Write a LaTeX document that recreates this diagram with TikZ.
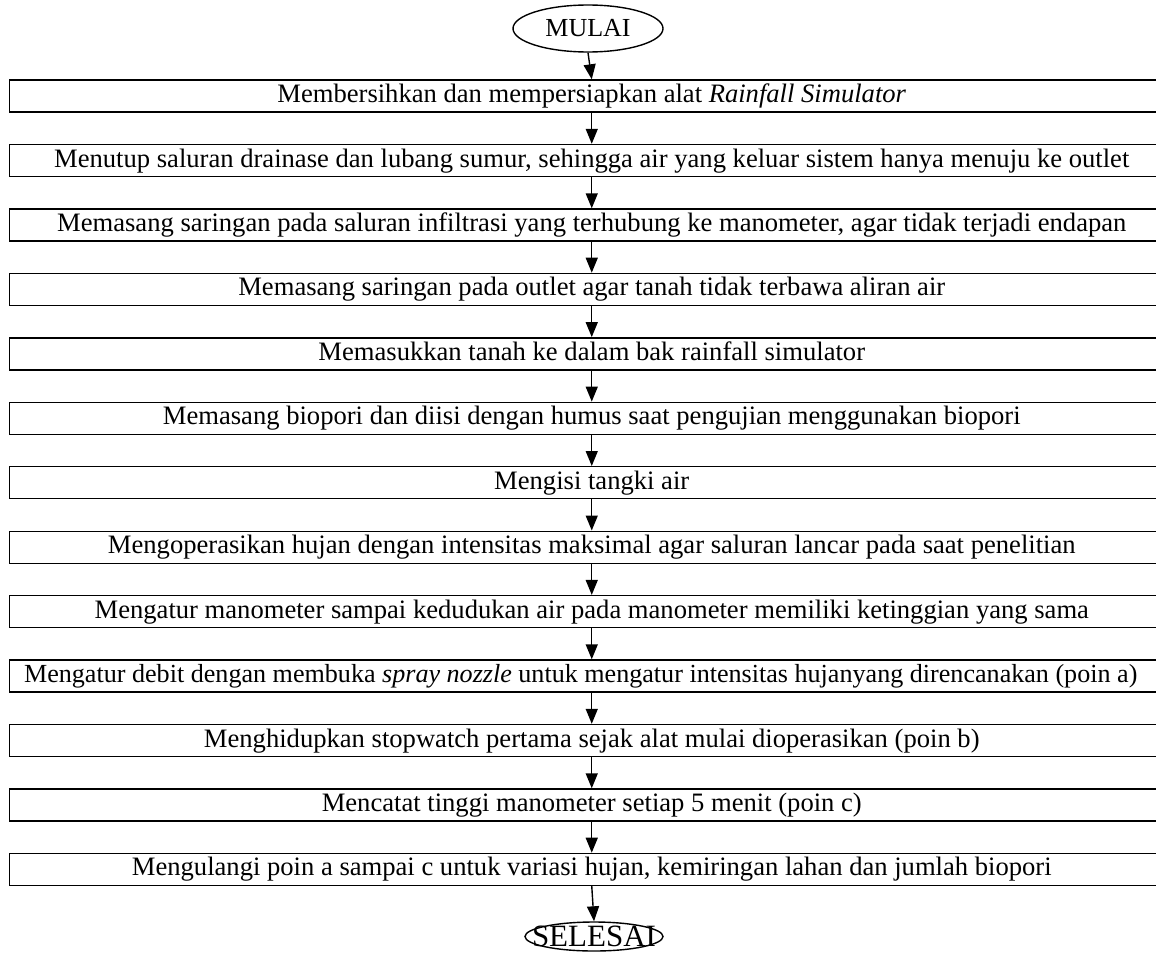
\documentclass[tikz,border=0pt]{standalone}
\usepackage{fontspec}
\setmainfont{Liberation Serif}
\usetikzlibrary{shapes.geometric,arrows.meta}
\begin{document}
\begin{tikzpicture}[x=1pt,y=-1pt,
  stepbox/.style={draw,line width=1.4pt,minimum width=1164.5pt,minimum height=32pt,inner sep=0pt,text height=18pt,text depth=5pt,font=\fontsize{26.6}{30}\selectfont},
  term/.style={draw,ellipse,line width=1.4pt,inner sep=0pt},
  arr/.style={-{Triangle[length=15pt,width=12pt]},line width=1.4pt}]
\useasboundingbox (0,0) rectangle (1156,953);
\node[term,minimum width=150pt,minimum height=47pt] (mulai) at (588,28.5) {};
\node[font=\fontsize{26}{30}\selectfont] (tmulai) at (mulai) {MULAI};
\node[stepbox] (b1) at (591.75,96) {Membersihkan dan mempersiapkan alat \textit{Rainfall Simulator}};
\node[stepbox] (b2) at (591.75,160.5) {Menutup saluran drainase dan lubang sumur, sehingga air yang keluar sistem hanya menuju ke outlet};
\node[stepbox] (b3) at (591.75,225) {Memasang saringan pada saluran infiltrasi yang terhubung ke manometer, agar tidak terjadi endapan};
\node[stepbox] (b4) at (591.75,289.4) {Memasang saringan pada outlet agar tanah tidak terbawa aliran air};
\node[stepbox] (b5) at (591.75,353.8) {Memasukkan tanah ke dalam bak rainfall simulator};
\node[stepbox] (b6) at (591.75,418.3) {Memasang biopori dan diisi dengan humus saat pengujian menggunakan biopori};
\node[stepbox] (b7) at (591.75,482.7) {Mengisi tangki air};
\node[stepbox] (b8) at (591.75,547.2) {Mengoperasikan hujan dengan intensitas maksimal agar saluran lancar pada saat penelitian};
\node[stepbox] (b9) at (591.75,611.6) {Mengatur manometer sampai kedudukan air pada manometer memiliki ketinggian yang sama};
\node[stepbox,font=\fontsize{26.1}{30}\selectfont] (b10) at (591.75,676) {Mengatur debit dengan membuka \textit{spray nozzle} untuk mengatur intensitas hujanyang direncanakan (poin a)\hspace*{22pt}};
\node[stepbox] (b11) at (591.75,740.5) {Menghidupkan stopwatch pertama sejak alat mulai dioperasikan (poin b)};
\node[stepbox] (b12) at (591.75,805) {Mencatat tinggi manometer setiap 5 menit (poin c)};
\node[stepbox] (b13) at (591.75,869.4) {Mengulangi poin a sampai c untuk variasi hujan, kemiringan lahan dan jumlah biopori};
\node[term,minimum width=138pt,minimum height=29pt] (selesai) at (594,936.5) {};
\node[font=\fontsize{31}{34}\selectfont] (tselesai) at (selesai) {SELESAI};
\draw[arr] (mulai.south) -- (b1.north);
\foreach \a/\b in {b1/b2,b2/b3,b3/b4,b4/b5,b5/b6,b6/b7,b7/b8,b8/b9,b9/b10,b10/b11,b11/b12,b12/b13}
  \draw[arr] (\a.south) -- (\b.north);
\draw[arr] (b13.south) -- (selesai.north);
\end{tikzpicture}
\end{document}
